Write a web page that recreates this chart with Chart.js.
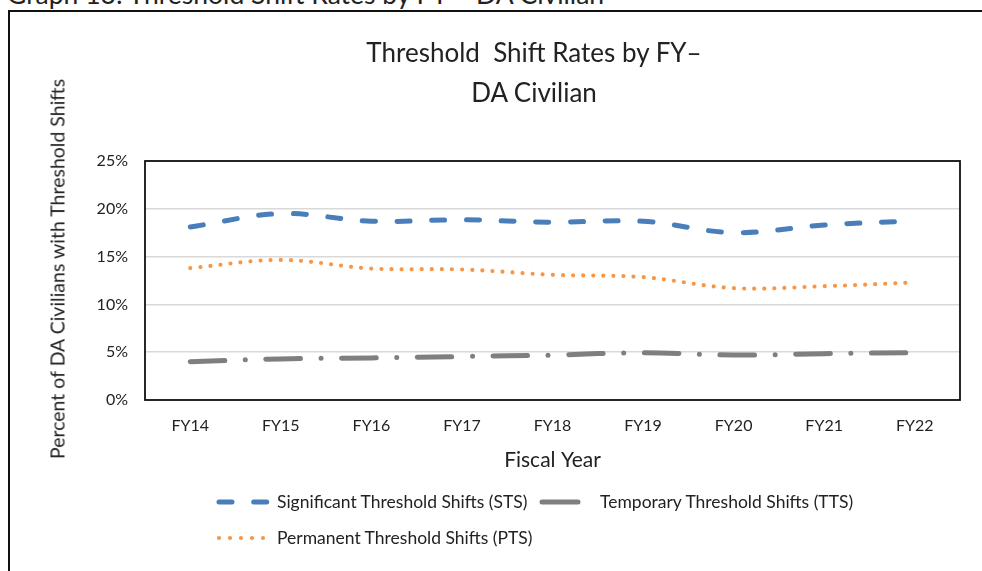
<!DOCTYPE html>
<html>
<head>
<meta charset="utf-8">
<script src="https://cdn.jsdelivr.net/npm/chart.js@4/dist/chart.umd.min.js"></script>
<style>
  html, body { margin: 0; padding: 0; background: #fff; overflow: hidden; }
  body { width: 982px; height: 571px; position: relative; font-family: Lato, 'Open Sans', sans-serif; color: #222; }
  #frame { position: absolute; left: 8px; top: 10px; width: 1000px; height: 600px; border: 2px solid #111; }
  #caption { position: absolute; left: 7px; top: -19px; font-size: 26.5px; line-height: 26px; white-space: nowrap; }
  #title { position: absolute; left: 0; width: 1068px; top: 32px; text-align: center; font-size: 26px; line-height: 40px; }
  #ytitle { position: absolute; left: 57px; top: 269px; transform: translate(-50%, -50%) rotate(-90deg); font-size: 19.5px; white-space: nowrap; }
  canvas { position: absolute; left: 0; top: 0; }
  .leg { position: absolute; font-size: 17.5px; line-height: 24px; white-space: nowrap; }
  svg.s { position: absolute; }
</style>
</head>
<body>
<div id="frame"></div>
<div id="caption">Graph 13: Threshold Shift Rates by FY – DA Civilian</div>
<canvas id="chart" width="982" height="571"></canvas>
<div id="title">Threshold&nbsp; Shift Rates by FY–<br>DA Civilian</div>
<div id="ytitle">Percent of DA Civilians with Threshold Shifts</div>
<div id="legend"></div>
<script>
const years = ['FY14', 'FY15', 'FY16', 'FY17', 'FY18', 'FY19', 'FY20', 'FY21', 'FY22']
const sts = [18.1, 19.5, 18.7, 18.85, 18.6, 18.7, 17.5, 18.3, 18.75]
const pts = [13.8, 14.65, 13.75, 13.65, 13.1, 12.85, 11.7, 11.9, 12.3]
const tts = [4.0, 4.3, 4.4, 4.55, 4.7, 4.95, 4.7, 4.85, 4.95]
const yTicks = [0, 5, 10, 15, 20, 25]

const blue = '#4a7ebb'
const orange = '#f79646'
const grey = '#7f7f7f'

const frameBox = {
  id: 'frameBox',
  afterDraw(chart) {
    const { ctx, chartArea: a } = chart
    ctx.save()
    ctx.strokeStyle = '#111'
    ctx.lineWidth = 1.8
    ctx.strokeRect(a.left, a.top, a.right - a.left, a.bottom - a.top)
    ctx.restore()
  }
}

const tickFont = { family: 'Lato', size: 16 }

new Chart(document.getElementById('chart'), {
  type: 'line',
  data: {
    labels: years,
    datasets: [
      {
        label: 'Significant Threshold Shifts (STS)',
        data: sts,
        borderColor: blue,
        borderWidth: 5,
        borderDash: [13, 21.7],
        borderCapStyle: 'round'
      },
      {
        label: 'Permanent Threshold Shifts (PTS)',
        data: pts,
        borderColor: orange,
        borderWidth: 4.2,
        borderDash: [0, 10.1],
        borderCapStyle: 'round'
      },
      {
        label: 'Temporary Threshold Shifts (TTS)',
        data: tts,
        borderColor: grey,
        borderWidth: 5,
        borderDash: [34.5, 20.6, 0, 20.6],
        borderCapStyle: 'round'
      }
    ]
  },
  options: {
    responsive: false,
    animation: false,
    elements: { point: { radius: 0 }, line: { tension: 0.35 } },
    layout: { padding: { top: 161, left: 0, right: 22, bottom: 98 } },
    plugins: { legend: { display: false }, tooltip: { enabled: false } },
    scales: {
      x: {
        offset: true,
        afterFit: s => { s.height = 73 },
        grid: { display: false, drawTicks: false },
        border: { display: false },
        ticks: { color: '#222', font: tickFont, padding: 16 },
        title: { display: true, text: 'Fiscal Year', color: '#222', font: { family: 'Lato', size: 21 }, padding: 0 }
      },
      y: {
        min: 0,
        max: 25,
        afterFit: s => { s.width = 145 },
        afterBuildTicks: s => { s.ticks = yTicks.map(v => ({ value: v })) },
        grid: { color: '#d9d9d9', lineWidth: 1.5, drawTicks: false },
        border: { display: false },
        ticks: { color: '#222', font: tickFont, padding: 17, callback: v => v + '%' }
      }
    }
  },
  plugins: [frameBox]
})

// legend samples, same line styles as the datasets
const legendItems = [
  { text: 'Significant Threshold Shifts (STS)', color: blue, dash: '13 21.7', w: 5, x: 219, y: 502, len: 51, tx: 277 },
  { text: 'Temporary Threshold Shifts (TTS)', color: grey, dash: '', w: 5, x: 542, y: 502, len: 36, tx: 600 },
  { text: 'Permanent Threshold Shifts (PTS)', color: orange, dash: '0 11', w: 4.2, x: 219, y: 538, len: 51, tx: 277 }
]
const leg = document.getElementById('legend')
legendItems.forEach(it => {
  leg.insertAdjacentHTML('beforeend', `<svg class="s" style="left:${it.x - 4}px;top:${it.y - 5}px" width="${it.len + 8}" height="10"><line x1="4" y1="5" x2="${it.len + 4}" y2="5" stroke="${it.color}" stroke-width="${it.w}" stroke-linecap="round" stroke-dasharray="${it.dash}"/></svg>`)
  leg.insertAdjacentHTML('beforeend', `<div class="leg" style="left:${it.tx}px;top:${it.y - 12}px">${it.text}</div>`)
})
</script>
</body>
</html>
